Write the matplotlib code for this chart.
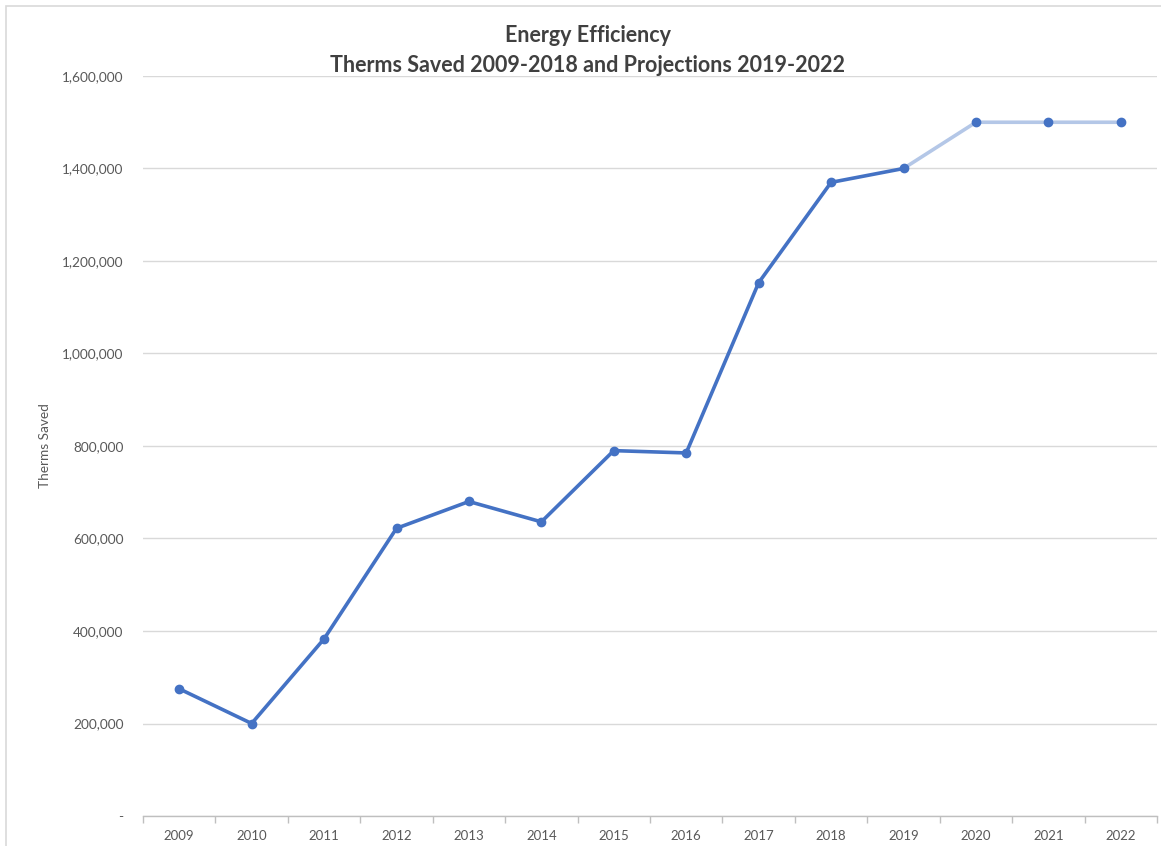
import matplotlib
matplotlib.use('Agg')
from matplotlib import pyplot
from matplotlib.patches import Rectangle
from matplotlib.ticker import FuncFormatter, FixedLocator

pyplot.rcParams['font.family'] = ['Lato', 'DejaVu Sans']

# values
years = ['2009', '2010', '2011', '2012', '2013', '2014', '2015',
         '2016', '2017', '2018', '2019', '2020', '2021', '2022']
actual = [275000, 200000, 383000, 622000, 680000, 636000, 790000,
          785000, 1153000, 1370000, 1400000]
projected = [1400000, 1500000, 1500000, 1500000]  # 2019-2022
yticks = [0, 200000, 400000, 600000, 800000, 1000000, 1200000, 1400000, 1600000]

dark = '#4472C4'
light = '#B4C7E7'
grey = '#595959'

fig = pyplot.figure(figsize=(11.61, 8.46), dpi=100)
fig.patches.append(Rectangle((6/1161., -0.1), 1.2, 1 - 6/846. + 0.1,
                             transform=fig.transFigure, fill=False,
                             edgecolor='#D9D9D9', linewidth=1.2))

ax = fig.add_axes([143/1161., 30/846., 1014/1161., 740/846.])

xa = list(range(len(actual)))
xp = list(range(len(actual) - 1, len(years)))
ax.plot(xp, projected, '-', color=light, linewidth=2.6, solid_capstyle='round', zorder=3)
ax.plot(xa, actual, '-', color=dark, linewidth=2.6, solid_joinstyle='round', zorder=4)
ax.plot(xa + xp[1:], actual + projected[1:], 'o', color=dark, markersize=6, zorder=5)

ax.set_xlim(-0.5, len(years) - 0.5)
ax.set_ylim(0, 1600000)

ax.set_xticks(range(len(years)))
ax.set_xticklabels(years)
ax.xaxis.set_minor_locator(FixedLocator([i - 0.5 for i in range(len(years) + 1)]))
ax.tick_params(axis='x', which='major', length=0, pad=10, labelsize=9.5, labelcolor=grey)
ax.tick_params(axis='x', which='minor', length=5, color='#BFBFBF', width=1)

ax.set_yticks(yticks)
ax.yaxis.set_major_formatter(FuncFormatter(lambda v, p: '-' if v == 0 else '{:,.0f}'.format(v)))
ax.tick_params(axis='y', length=0, pad=14, labelsize=9.8, labelcolor=grey)
ax.grid(True, axis='y', color='#D9D9D9', linewidth=1)
ax.set_axisbelow(True)

for s in ['top', 'right', 'left']:
    ax.spines[s].set_visible(False)
ax.spines['bottom'].set_color('#BFBFBF')
ax.spines['bottom'].set_linewidth(1)

ax.set_ylabel('Therms Saved', fontsize=9.8, color=grey, labelpad=8)

fig.text(588/1161., 1 - 36/846., 'Energy Efficiency', ha='center', va='center',
         fontsize=15.5, fontweight='bold', color='#404040')
fig.text(588/1161., 1 - 65/846., 'Therms Saved 2009-2018 and Projections 2019-2022',
         ha='center', va='center', fontsize=15.5, fontweight='bold', color='#404040')

fig.savefig('out.png', dpi=100)
